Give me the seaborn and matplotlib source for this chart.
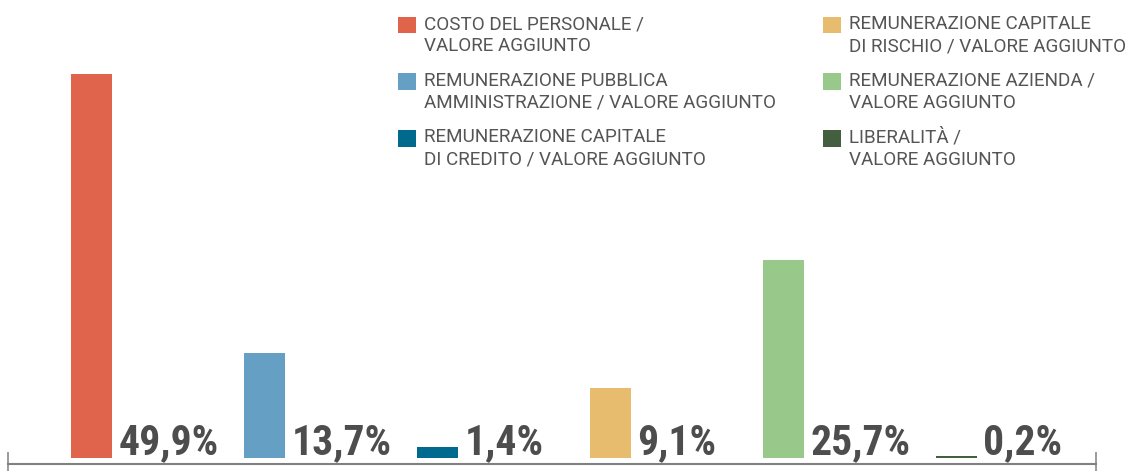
#!/usr/bin/env python3
# -*- coding: utf-8 -*-

"""
Distribuzione del valore aggiunto - barre con etichette percentuali
"""

import pandas as pd
import matplotlib
matplotlib.use("Agg")
import matplotlib.pyplot as plt
from matplotlib import font_manager
import seaborn as sns

# =====================================================================
# DATI
# =====================================================================
voci = [
    "COSTO DEL PERSONALE /\nVALORE AGGIUNTO",
    "REMUNERAZIONE PUBBLICA\nAMMINISTRAZIONE / VALORE AGGIUNTO",
    "REMUNERAZIONE CAPITALE\nDI CREDITO / VALORE AGGIUNTO",
    "REMUNERAZIONE CAPITALE\nDI RISCHIO / VALORE AGGIUNTO",
    "REMUNERAZIONE AZIENDA /\nVALORE AGGIUNTO",
    "LIBERALITÀ /\nVALORE AGGIUNTO",
]
percentuali = [49.9, 13.7, 1.4, 9.1, 25.7, 0.2]
colori = ["#E0644B", "#659FC3", "#006A8E", "#E8BC6E", "#98C98A", "#426040"]

df = pd.DataFrame({"voce": voci, "valore": percentuali})

# =====================================================================
# STILE
# =====================================================================
sns.set_theme(style="white")

# font stretto per le percentuali: il primo disponibile fra i candidati
disponibili = {f.name for f in font_manager.fontManager.ttflist}
FONT_NARROW = "DejaVu Sans"
for cand in ["Roboto Condensed", "Liberation Sans Narrow"]:
    if cand in disponibili:
        FONT_NARROW = cand
        break
FONT_LEGENDA = ["Roboto", "DejaVu Sans"]
plt.rcParams["font.family"] = FONT_LEGENDA
GRIGIO_TESTO = "#4d4d4d"

fig = plt.figure(figsize=(11.33, 4.71), dpi=100)
ax = fig.add_axes([8 / 1133, 7 / 471, 1088 / 1133, 464 / 471])

sns.barplot(data=df, x="voce", y="valore", hue="voce", palette=colori,
            width=0.237, saturation=1, linewidth=0, legend=True, ax=ax)

# scala: 173 px per categoria, 7.7 px per punto percentuale
x_min, x_max = -0.4855, 5.8035
ax.set_xlim(x_min, x_max)
ax.set_ylim(-0.78, 59.48)
ax.set(xlabel="", ylabel="")
ax.set_yticks([])
ax.set_xticks([x_min, x_max])
ax.set_xticklabels(["", ""])
ax.tick_params(axis="x", direction="inout", length=17, width=1.1,
               color="#808080", bottom=True)
for lato in ["left", "top", "right"]:
    ax.spines[lato].set_visible(False)
ax.spines["bottom"].set_color("#808080")
ax.spines["bottom"].set_linewidth(1.5)

# etichette percentuali a destra di ogni barra
for cont, v in zip(ax.containers, percentuali):
    barra = cont[0]
    testo = f"{v:.1f}".replace(".", ",") + "%"
    ax.annotate(testo, xy=(barra.get_x() + barra.get_width(), 0),
                xytext=(4.3, 2.5), textcoords="offset points",
                ha="left", va="baseline", fontsize=30, fontweight="bold",
                fontstretch="condensed", color=GRIGIO_TESTO,
                family=[FONT_NARROW, "DejaVu Sans"])

# legenda su due colonne in alto
leg = ax.legend(loc="upper left", bbox_to_anchor=(397.5 / 1133, 1 - 15 / 471),
                bbox_transform=fig.transFigure, ncol=2, frameon=False,
                prop={"family": FONT_LEGENDA, "size": 13.6},
                handlelength=1.0, handleheight=0.98, handletextpad=0.42,
                labelspacing=0.87, columnspacing=2.45, borderpad=0,
                borderaxespad=0)
for t in leg.get_texts():
    t.set_color("#555555")
    t.set_linespacing(1.3)
# quadratino allineato alla prima riga del testo
for h in leg.legend_handles:
    h.set_y(h.get_y() + 7.7)

fig.savefig("out.png", dpi=100)
plt.close(fig)
